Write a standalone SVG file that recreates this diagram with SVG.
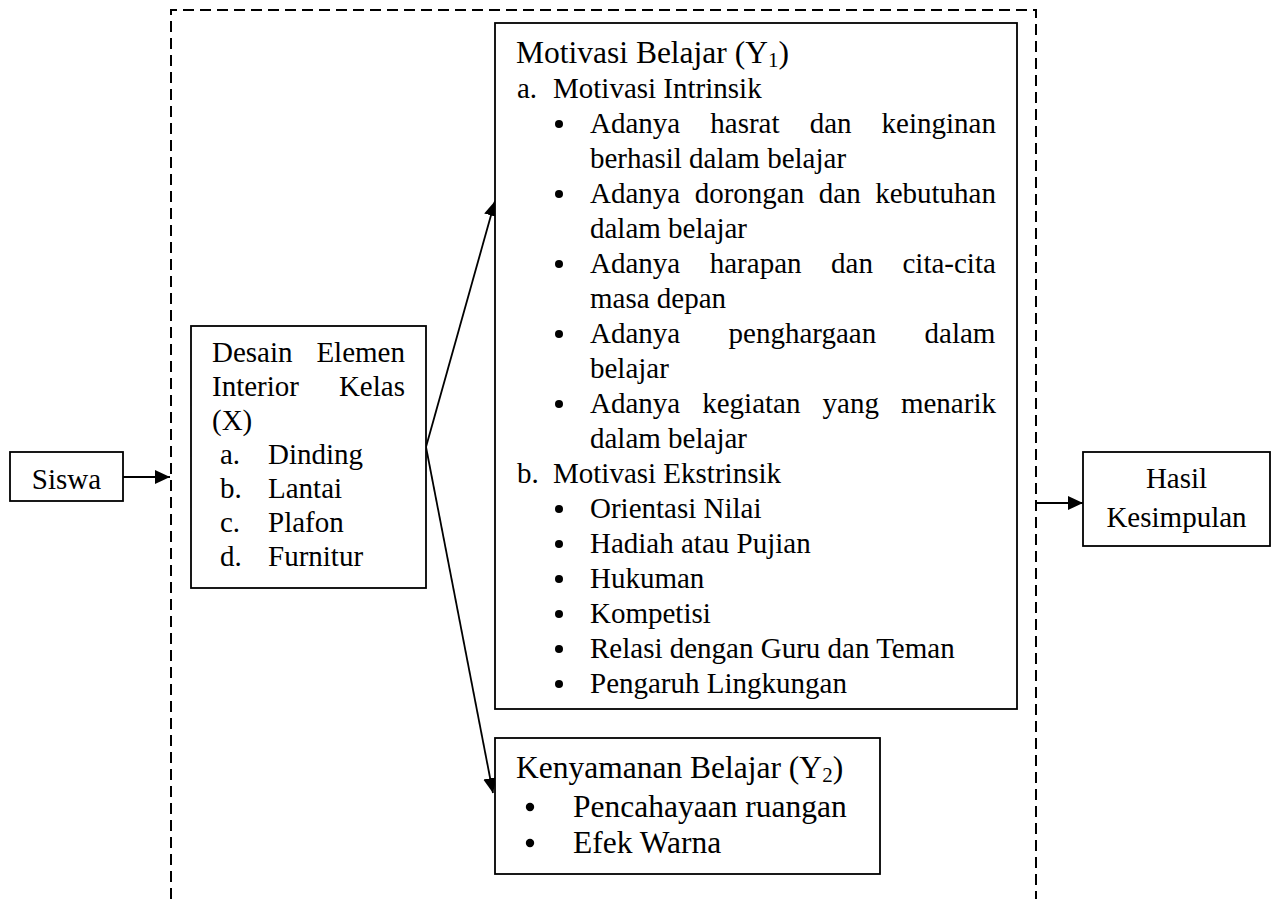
<svg xmlns="http://www.w3.org/2000/svg" width="1278" height="899" viewBox="0 0 1278 899">
<style>
text{font-family:"Liberation Serif","Times New Roman",serif;fill:#000;font-size:29px}
.big{font-size:31.5px}
.box{fill:#fff;stroke:#000;stroke-width:1.8}
.c{text-anchor:middle}
.con{stroke:#000;stroke-width:1.8;fill:none}
.dash{stroke:#000;stroke-width:2;fill:none;stroke-dasharray:11 6}
</style>
<defs>
<marker id="ah" markerUnits="userSpaceOnUse" markerWidth="16" markerHeight="14" refX="15" refY="7" orient="auto">
<path d="M0,0 L15,7 L0,14 Z" fill="#000"/>
</marker>
</defs>
<rect width="1278" height="899" fill="#fff"/>
<path class="dash" d="M171,899 V10 H1036 V899"/>
<g id="connectors">
<line class="con" x1="123" y1="477" x2="170" y2="477" marker-end="url(#ah)"/>
<line class="con" x1="1036" y1="503" x2="1083" y2="503" marker-end="url(#ah)"/>
<line class="con" x1="426" y1="447" x2="495" y2="201" marker-end="url(#ah)"/>
<line class="con" x1="426" y1="447" x2="493" y2="793" marker-end="url(#ah)"/>
</g>
<g id="siswa">
<rect class="box" x="10" y="452" width="113" height="49"/>
<text class="c" x="66.5" y="489">Siswa</text>
</g>
<g id="desain">
<rect class="box" x="191" y="326" width="235" height="262"/>
<text x="212" y="362" style="word-spacing:16.6px">Desain Elemen</text>
<text x="212" y="396" style="word-spacing:32.7px">Interior Kelas</text>
<text x="212" y="430">(X)</text>
<text x="220" y="464">a.</text><text x="268" y="464">Dinding</text>
<text x="220" y="498">b.</text><text x="268" y="498">Lantai</text>
<text x="220" y="532">c.</text><text x="268" y="532">Plafon</text>
<text x="220" y="566">d.</text><text x="268" y="566">Furnitur</text>
</g>
<g id="motivasi">
<rect class="box" x="495" y="23" width="522" height="686"/>
<text class="big" x="516" y="63">Motivasi Belajar (Y<tspan font-size="21" dy="4">1</tspan><tspan dy="-4">)</tspan></text>
<text x="517" y="98">a.</text><text x="553" y="98">Motivasi Intrinsik</text>
<g fill="#000">
<circle cx="559" cy="124" r="4"/>
<circle cx="559" cy="194" r="4"/>
<circle cx="559" cy="264" r="4"/>
<circle cx="559" cy="334" r="4"/>
<circle cx="559" cy="404" r="4"/>
<circle cx="559" cy="509" r="4"/>
<circle cx="559" cy="544" r="4"/>
<circle cx="559" cy="579" r="4"/>
<circle cx="559" cy="614" r="4"/>
<circle cx="559" cy="649" r="4"/>
<circle cx="559" cy="684" r="4"/>
</g>
<text x="590" y="133" style="word-spacing:22.85px">Adanya hasrat dan keinginan</text>
<text x="590" y="168">berhasil dalam belajar</text>
<text x="590" y="203" style="word-spacing:7.28px">Adanya dorongan dan kebutuhan</text>
<text x="590" y="238">dalam belajar</text>
<text x="590" y="273" style="word-spacing:22.3px">Adanya harapan dan cita-cita</text>
<text x="590" y="308">masa depan</text>
<text x="590" y="343" style="word-spacing:41.1px">Adanya penghargaan dalam</text>
<text x="590" y="378">belajar</text>
<text x="590" y="413" style="word-spacing:14.8px">Adanya kegiatan yang menarik</text>
<text x="590" y="448">dalam belajar</text>
<text x="517" y="483">b.</text><text x="553" y="483">Motivasi Ekstrinsik</text>
<text x="590" y="518">Orientasi Nilai</text>
<text x="590" y="553">Hadiah atau Pujian</text>
<text x="590" y="588">Hukuman</text>
<text x="590" y="623">Kompetisi</text>
<text x="590" y="658">Relasi dengan Guru dan Teman</text>
<text x="590" y="693">Pengaruh Lingkungan</text>
</g>
<g id="kenyamanan">
<rect class="box" x="495" y="738" width="385" height="136"/>
<text class="big" x="516" y="778">Kenyamanan Belajar (Y<tspan font-size="21" dy="4">2</tspan><tspan dy="-4">)</tspan></text>
<circle cx="530" cy="807" r="4.2" fill="#000"/>
<circle cx="530" cy="843" r="4.2" fill="#000"/>
<text class="big" x="573" y="817">Pencahayaan ruangan</text>
<text class="big" x="573" y="853">Efek Warna</text>
</g>
<g id="hasil">
<rect class="box" x="1083" y="452" width="187" height="94"/>
<text class="c" x="1176.5" y="488">Hasil</text>
<text class="c" x="1176.5" y="527">Kesimpulan</text>
</g>
</svg>
